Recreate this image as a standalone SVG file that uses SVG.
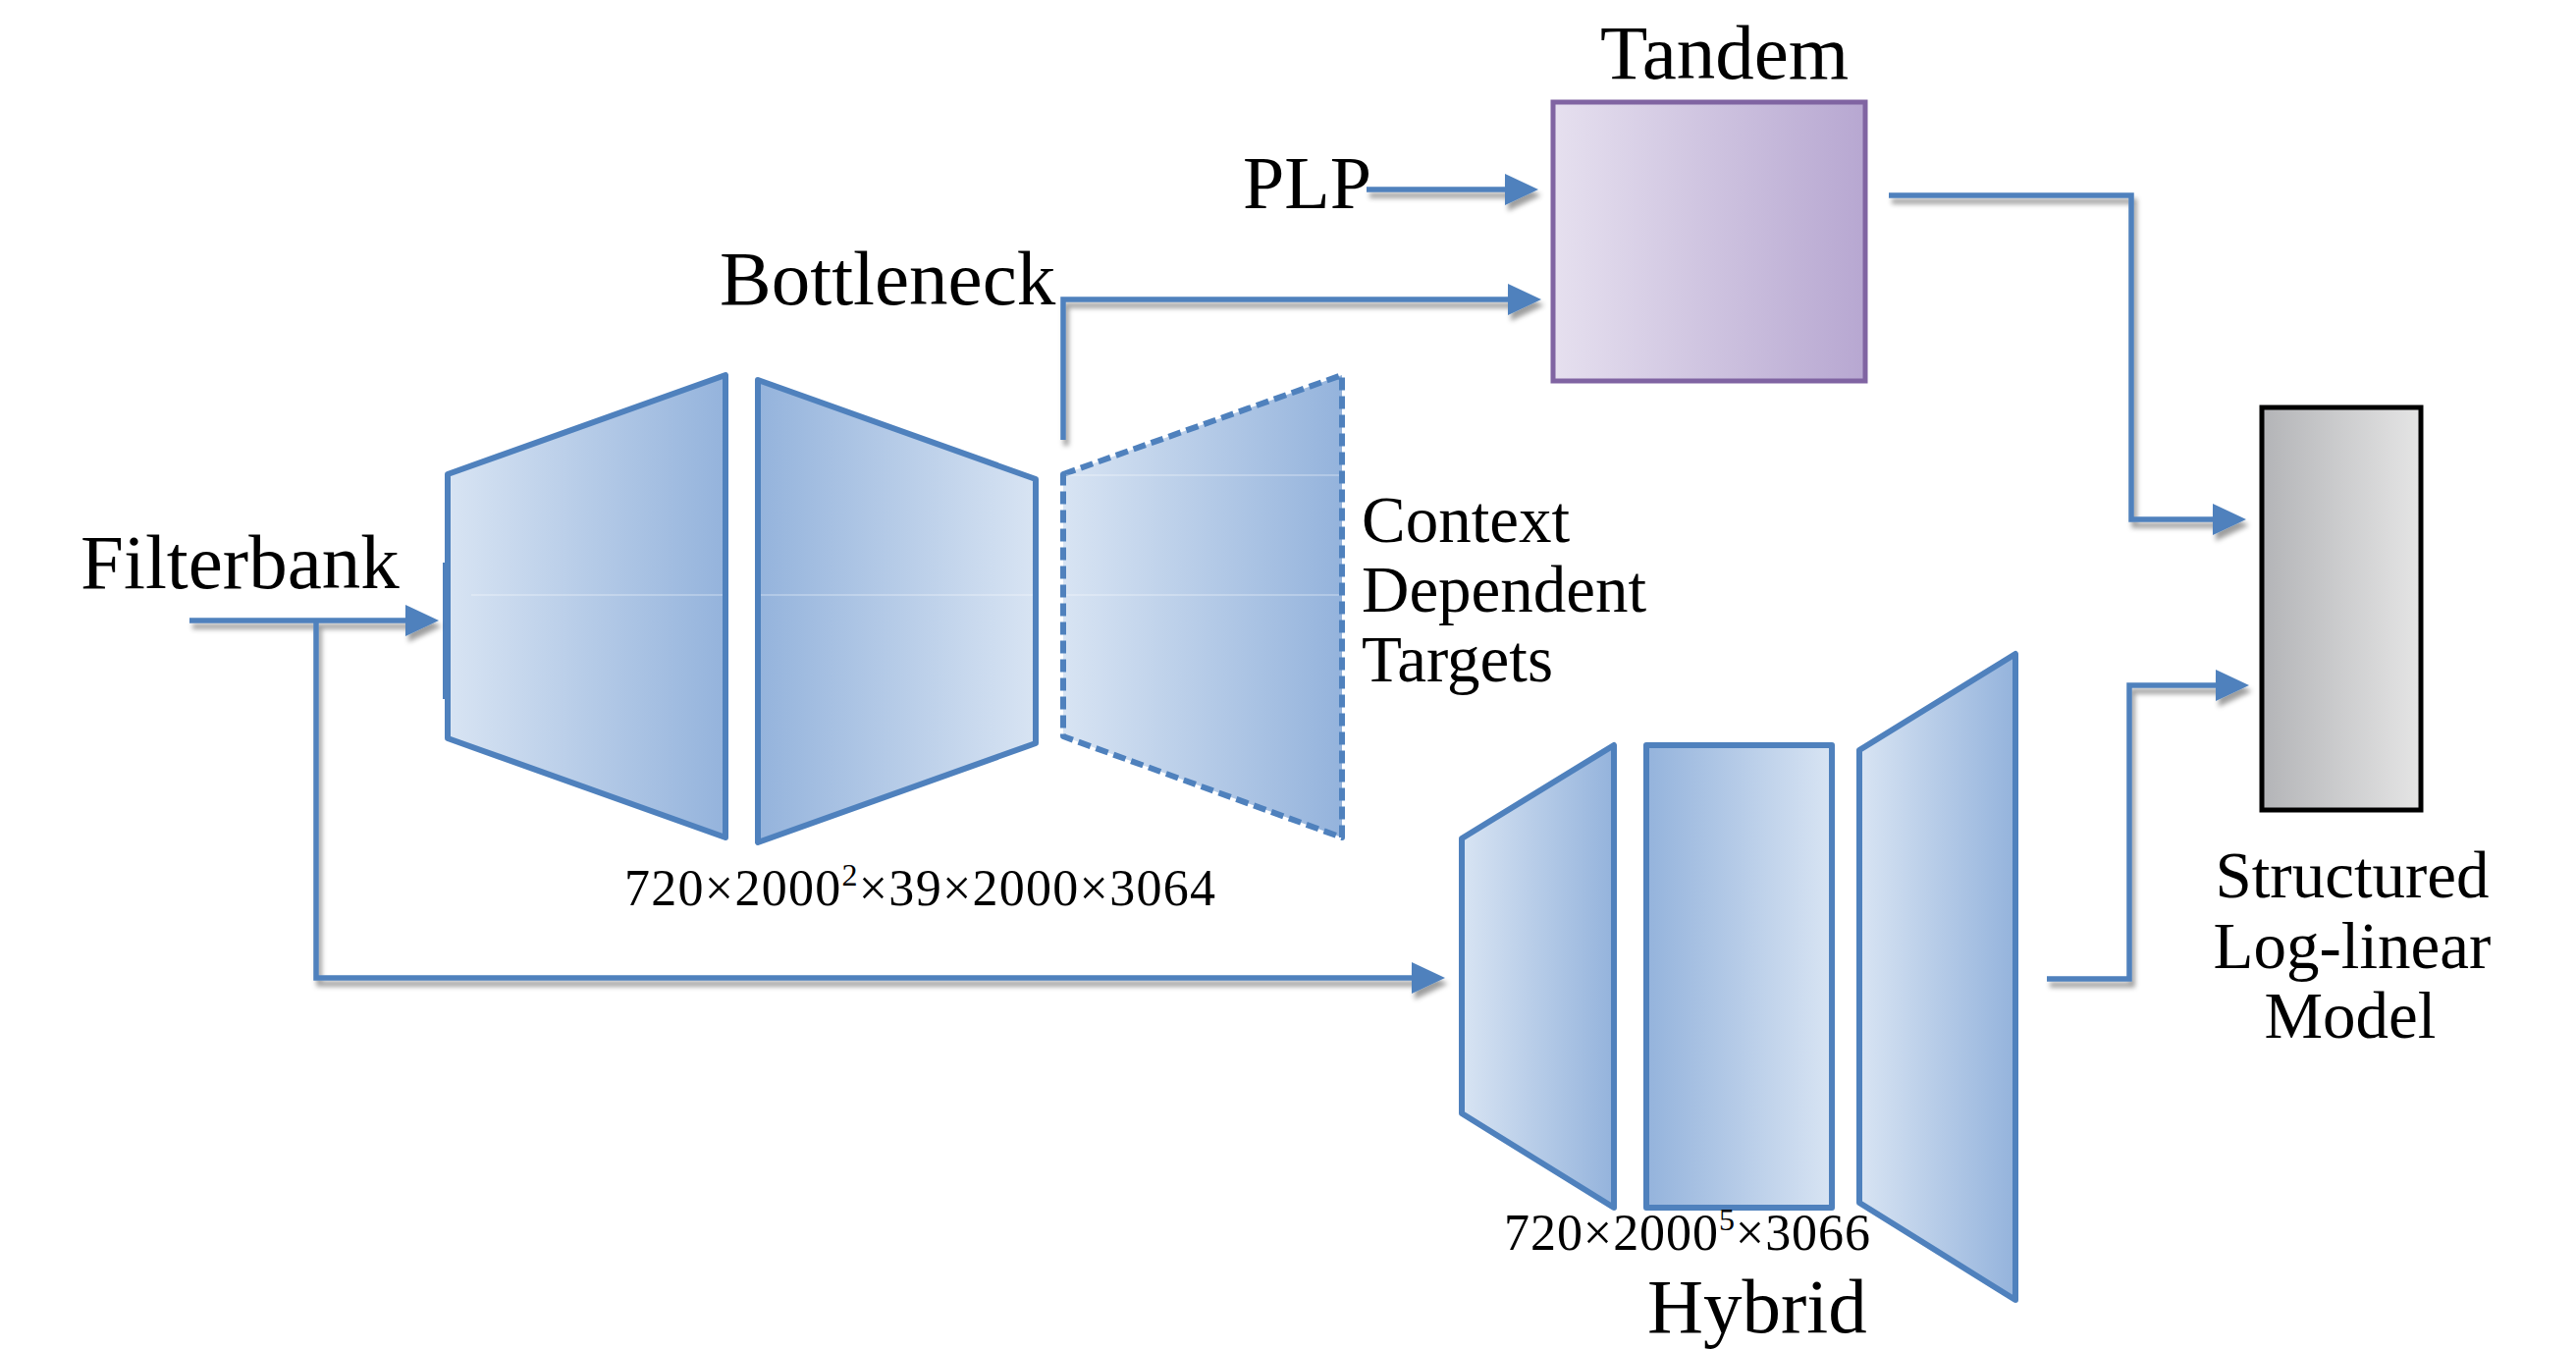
<svg xmlns="http://www.w3.org/2000/svg" width="2624" height="1375" viewBox="0 0 2624 1375">
  <style>
    .lbl { font-family: "Liberation Serif", "Times New Roman", serif; fill: #000; }
    .big { font-size: 79px; }
    .plp { font-size: 76px; }
    .mid { font-size: 67px; }
    .dim { font-size: 52px; }
    .layer { stroke: #4f81bd; stroke-width: 6; stroke-linejoin: round; }
    .dashed { stroke-dasharray: 13 6; }
    .conn { fill: none; stroke: #4f81bd; stroke-width: 5.5; }
    .seam { stroke: #ffffff; stroke-opacity: 0.35; stroke-width: 1.5; }
  </style>
  <defs>
    <linearGradient id="blueUp" x1="0" y1="0" x2="1" y2="0">
      <stop offset="0" stop-color="#d8e4f3"/>
      <stop offset="1" stop-color="#94b3dc"/>
    </linearGradient>
    <linearGradient id="blueDown" x1="0" y1="0" x2="1" y2="0">
      <stop offset="0" stop-color="#94b3dc"/>
      <stop offset="1" stop-color="#d8e4f3"/>
    </linearGradient>
    <linearGradient id="purple" x1="0" y1="0" x2="1" y2="0">
      <stop offset="0" stop-color="#e6e0ef"/>
      <stop offset="1" stop-color="#b7a7d1"/>
    </linearGradient>
    <linearGradient id="grey" x1="0" y1="0" x2="1" y2="0">
      <stop offset="0" stop-color="#b3b4b7"/>
      <stop offset="1" stop-color="#e5e5e5"/>
    </linearGradient>
    <filter id="shadow" filterUnits="userSpaceOnUse" x="0" y="0" width="2624" height="1375">
      <feDropShadow dx="3" dy="6" stdDeviation="2.5" flood-color="#000" flood-opacity="0.38"/>
    </filter>
    <marker id="head" markerUnits="userSpaceOnUse" markerWidth="34" markerHeight="32" refX="14" refY="16" orient="auto">
      <path d="M0,0 L34,16 L0,32 Z" fill="#4f81bd"/>
    </marker>
  </defs>

  <!-- bottleneck network -->
  <g id="bn-input-layer">
    <polygon class="layer" fill="url(#blueUp)" points="456,483 739,382 739,853 456,752"/>
    <line class="seam" x1="480" y1="606" x2="736" y2="606"/>
    <line x1="455" y1="573" x2="455" y2="712" stroke="#4f81bd" stroke-width="8"/>
  </g>
  <g id="bn-bottleneck-layer">
    <polygon class="layer" fill="url(#blueDown)" points="772,387 1055,488 1055,757 772,858"/>
    <line class="seam" x1="775" y1="606" x2="1052" y2="606"/>
  </g>
  <g id="bn-targets-layer">
    <polygon class="layer dashed" fill="url(#blueUp)" points="1083,483 1367,382 1367,853 1083,750"/>
    <line class="seam" x1="1086" y1="484" x2="1364" y2="484"/>
    <line class="seam" x1="1086" y1="606" x2="1364" y2="606"/>
  </g>

  <!-- hybrid network -->
  <g id="hy-input-layer">
    <polygon class="layer" fill="url(#blueUp)" points="1489,854 1644,759 1644,1230 1489,1134"/>
  </g>
  <g id="hy-hidden-layers">
    <rect class="layer" fill="url(#blueDown)" x="1677" y="759" width="189" height="471"/>
  </g>
  <g id="hy-output-layer">
    <polygon class="layer" fill="url(#blueUp)" points="1894,764 2053,666 2053,1324 1894,1225"/>
  </g>

  <!-- tandem system -->
  <g id="tandem">
    <rect x="1582" y="104" width="318" height="284" fill="url(#purple)" stroke="#8064a2" stroke-width="5"/>
    <text class="lbl big" x="1630" y="80">Tandem</text>
  </g>

  <!-- structured log-linear model -->
  <g id="sllm">
    <rect x="2304" y="415" width="162" height="410" fill="url(#grey)" stroke="#000" stroke-width="5"/>
    <text class="lbl mid" x="2396" y="914" text-anchor="middle">Structured</text>
    <text class="lbl mid" x="2396" y="986" text-anchor="middle">Log-linear</text>
    <text class="lbl mid" x="2394" y="1057" text-anchor="middle">Model</text>
  </g>

  <!-- labels -->
  <g id="labels">
    <text class="lbl big" x="82" y="599">Filterbank</text>
    <text class="lbl plp" x="1266" y="212">PLP</text>
    <text class="lbl big" x="733" y="310">Bottleneck</text>
    <text class="lbl mid" x="1387" y="552">Context</text>
    <text class="lbl mid" x="1387" y="623">Dependent</text>
    <text class="lbl mid" x="1387" y="694">Targets</text>
    <text class="lbl big" x="1678" y="1357">Hybrid</text>
    <text class="lbl dim" x="636" y="922" textLength="602" lengthAdjust="spacing">720×2000<tspan dy="-20" font-size="32">2</tspan><tspan dy="20">×39×2000×3064</tspan></text>
    <text class="lbl dim" x="1532" y="1273" textLength="373" lengthAdjust="spacing">720×2000<tspan dy="-20" font-size="32">5</tspan><tspan dy="20">×3066</tspan></text>
  </g>

  <!-- connectors -->
  <g id="connectors" filter="url(#shadow)">
    <path class="conn" d="M193,632 H427" marker-end="url(#head)"/>
    <path class="conn" d="M322,632 V996 H1452" marker-end="url(#head)"/>
    <path class="conn" d="M1392,193 H1547" marker-end="url(#head)"/>
    <path class="conn" d="M1083,448 V305 H1550" marker-end="url(#head)"/>
    <path class="conn" d="M1924,199 H2171 V529 H2268" marker-end="url(#head)"/>
    <path class="conn" d="M2085,997 H2169 V698 H2271" marker-end="url(#head)"/>
  </g>
</svg>
